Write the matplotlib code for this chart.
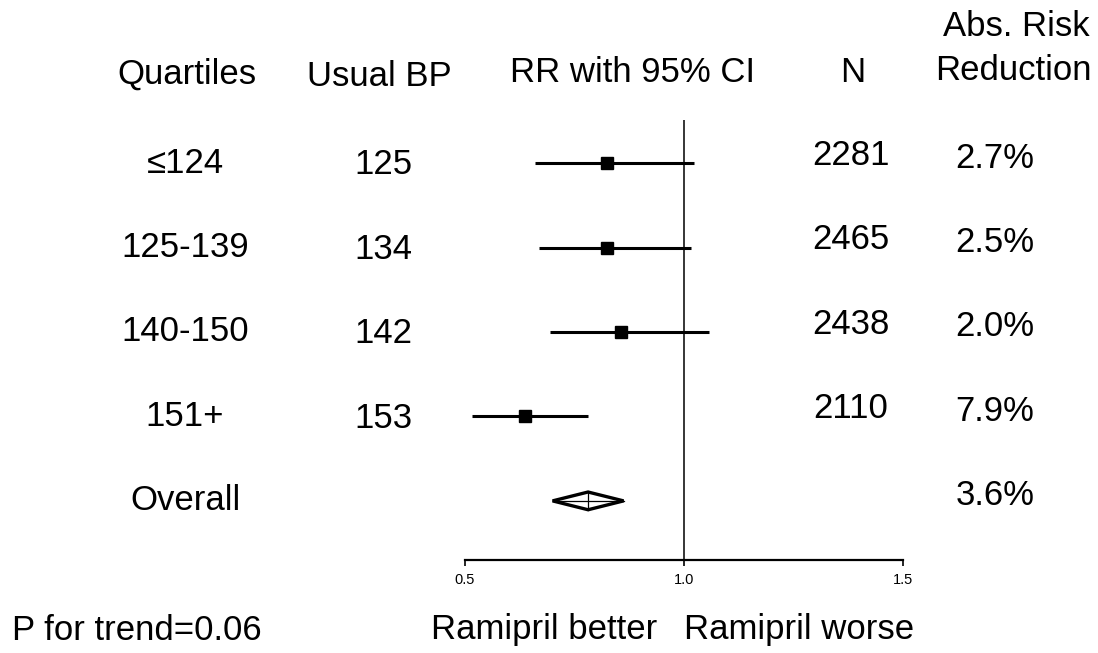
import matplotlib
matplotlib.use("Agg")
import matplotlib.pyplot as plt
import matplotlib.transforms as mtransforms
from matplotlib.patches import Polygon

plt.rcParams['font.family'] = ['Liberation Sans', 'DejaVu Sans']

# ---- data ----
quartiles = ["\u2264124", "125-139", "140-150", "151+", "Overall"]
usual_bp = ["125", "134", "142", "153"]
rr_point = [0.824, 0.824, 0.856, 0.637]
rr_low = [0.660, 0.669, 0.694, 0.516]
rr_high = [1.023, 1.016, 1.057, 0.781]
overall_rr = 0.781
overall_low = 0.700
overall_high = 0.862
n_values = ["2281", "2465", "2438", "2110"]
abs_risk_red = ["2.7%", "2.5%", "2.0%", "7.9%", "3.6%"]
x_ticks = [0.5, 1.0, 1.5]
x_tick_labels = ["0.5", "1.0", "1.5"]

W, H = 1098, 653
fig = plt.figure(figsize=(W / 100, H / 100), dpi=100)

def fx(px):
    return px / W

def fy(py):
    return 1 - py / H

# axes: x from 0.5 (px 465) to 1.5 (px 903); y from px 120 to 560
ax = fig.add_axes([fx(465), fy(560), fx(903) - fx(465), fy(120) - fy(560)])
ax.set_xlim(0.5, 1.5)
ax.set_ylim(4.70, -0.51)
for s in ['top', 'right', 'left']:
    ax.spines[s].set_visible(False)
ax.spines['bottom'].set_linewidth(1.6)
ax.set_yticks([])
ax.set_xticks(x_ticks)
ax.set_xticklabels(x_tick_labels, fontsize=10.5)
ax.tick_params(axis='x', direction='out', length=4, width=1.2, pad=5)

# reference line
ax.axvline(1.0, color='black', lw=1.1)

rows = list(range(len(quartiles)))
for i in range(len(rr_point)):
    ax.plot([rr_low[i], rr_high[i]], [rows[i], rows[i]], color='black', lw=2.2,
            solid_capstyle='butt')
    ax.plot(rr_point[i], rows[i], marker='s', ms=8.5, color='black', mec='black')

# overall diamond
yo = rows[4]
hh = 0.105
diamond = Polygon([[overall_low, yo], [overall_rr, yo - hh], [overall_high, yo], [overall_rr, yo + hh]],
                  closed=True, facecolor='white', edgecolor='black', lw=2.4, joinstyle='miter')
ax.add_patch(diamond)
ax.plot([overall_low, overall_high], [yo, yo], color='black', lw=0.9)
ax.plot([overall_rr, overall_rr], [yo - hh, yo + hh], color='black', lw=0.9)

# text
fs = 25
tr = mtransforms.blended_transform_factory(fig.transFigure, ax.transData)

# headers
fig.text(fx(187), fy(74), "Quartiles", ha='center', va='center', fontsize=fs)
fig.text(fx(379), fy(77), "Usual BP", ha='center', va='center', fontsize=fs)
fig.text(fx(632), fy(72), "RR with 95% CI", ha='center', va='center', fontsize=fs)
fig.text(fx(853), fy(72), "N", ha='center', va='center', fontsize=fs)
fig.text(fx(1016), fy(27), "Abs. Risk", ha='center', va='center', fontsize=fs)
fig.text(fx(1013), fy(70), "Reduction", ha='center', va='center', fontsize=fs)

for i, lab in enumerate(quartiles):
    ax.text(fx(185), rows[i], lab, transform=tr, ha='center', va='center', fontsize=fs)
for i, lab in enumerate(usual_bp):
    ax.text(fx(383), rows[i] + 0.02, lab, transform=tr, ha='center', va='center', fontsize=fs)
for i, lab in enumerate(n_values):
    ax.text(fx(851), rows[i] - 0.09, lab, transform=tr, ha='center', va='center', fontsize=fs)
for i, lab in enumerate(abs_risk_red):
    ax.text(fx(995), rows[i] - 0.06, lab, transform=tr, ha='center', va='center', fontsize=fs)

fig.text(fx(12), fy(630), "P for trend=0.06", ha='left', va='center', fontsize=fs)
fig.text(fx(544), fy(630), "Ramipril better", ha='center', va='center', fontsize=fs)
fig.text(fx(799), fy(630), "Ramipril worse", ha='center', va='center', fontsize=fs)

fig.savefig("out.png", dpi=100, facecolor='white')
